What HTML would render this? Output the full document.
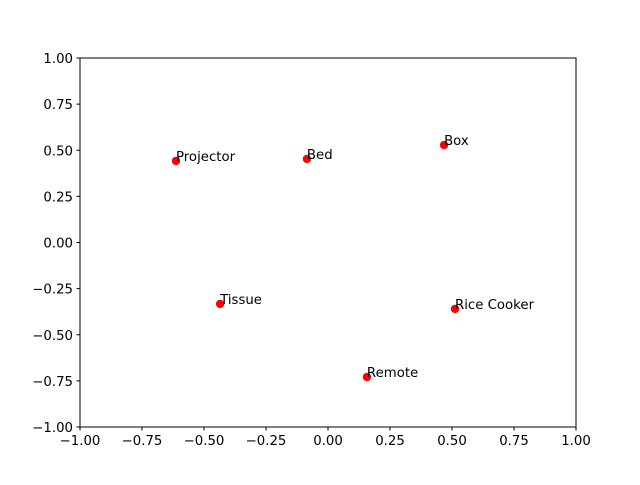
<!DOCTYPE html>
<html><head><meta charset="utf-8"><style>
html,body{margin:0;padding:0;background:#fff;}
svg text{font-family:"DejaVu Sans","Liberation Sans",sans-serif;font-size:13.3px;fill:#000;}
</style></head><body>
<svg id="chart" width="640" height="480" xmlns="http://www.w3.org/2000/svg">
<rect width="640" height="480" fill="#fff"/>
<g id="ticks"></g>
<g id="marks"></g>
<rect x="80" y="58" width="496" height="369" fill="none" stroke="#000" stroke-width="1"/>
</svg>
<script>
const labels = ["Projector","Bed","Box","Tissue","Rice Cooker","Remote"];
const xs = [-0.613,-0.085,0.468,-0.435,0.512,0.157];
const ys = [0.442,0.453,0.528,-0.333,-0.360,-0.729];
const xTicks = [-1,-0.75,-0.5,-0.25,0,0.25,0.5,0.75,1];
const yTicks = [-1,-0.75,-0.5,-0.25,0,0.25,0.5,0.75,1];
const xTickLabels = ["\u22121.00","\u22120.75","\u22120.50","\u22120.25","0.00","0.25","0.50","0.75","1.00"];
const yTickLabels = ["\u22121.00","\u22120.75","\u22120.50","\u22120.25","0.00","0.25","0.50","0.75","1.00"];
const NS="http://www.w3.org/2000/svg";
const L=80,R=576,T=58,B=427;
const sx=v=>L+(v+1)/2*(R-L);
const sy=v=>B-(v+1)/2*(B-T);
const tg=document.getElementById('ticks'), mg=document.getElementById('marks');
function mk(tag,attrs,parent){const e=document.createElementNS(NS,tag);for(const k in attrs)e.setAttribute(k,attrs[k]);parent.appendChild(e);return e;}
xTicks.forEach((v,i)=>{
  const x=sx(v);
  const t=mk('line',{x1:x,x2:x,y1:B,y2:B+3.5,stroke:'#000'},tg);
  
  
  const tx=mk('text',{x:x,y:B+18,'text-anchor':'middle'},tg);
  tx.textContent=xTickLabels[i];
  
  
});
yTicks.forEach((v,i)=>{
  const y=sy(v);
  const t=mk('line',{x1:L-3.5,x2:L,y1:y,y2:y,stroke:'#000'},tg);
  
  
  const tx=mk('text',{x:L-7,y:y+5,'text-anchor':'end'},tg);
  tx.textContent=yTickLabels[i];
  
  
});
labels.forEach((lab,i)=>{
  const cx=sx(xs[i]),cy=sy(ys[i]);
  const c=mk('circle',{cx:cx,cy:cy,r:4.2,fill:'#ff0000'},mg);
  
  
  const t=mk('text',{x:cx,y:cy},mg);
  t.textContent=lab;
  
  
});
</script>
</body></html>
